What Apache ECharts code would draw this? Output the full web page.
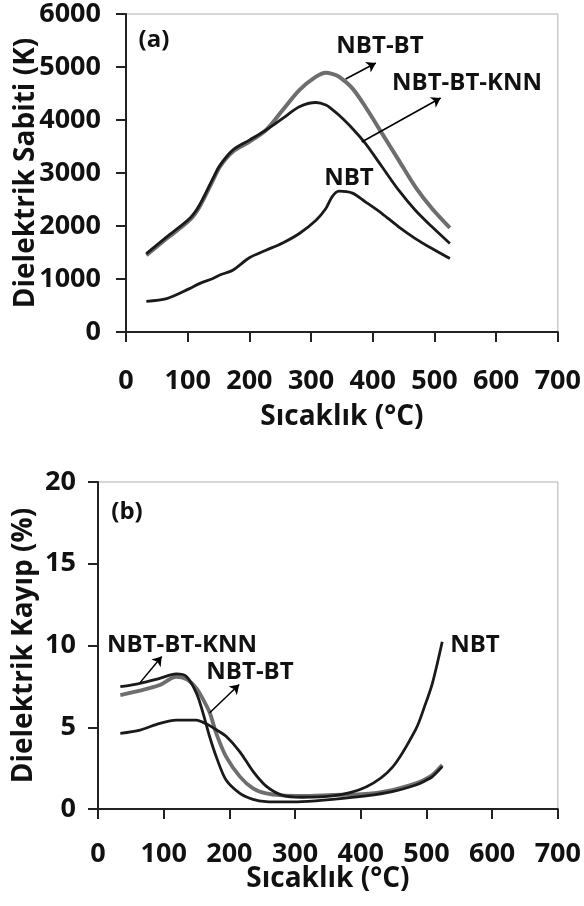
<!DOCTYPE html>
<html>
<head>
<meta charset="utf-8">
<script src="https://cdn.jsdelivr.net/npm/echarts@6/dist/echarts.min.js"></script>
<style>
  html, body { margin: 0; padding: 0; background: #fff; }
  #chart { width: 584px; height: 906px; }
</style>
</head>
<body>
<div id="chart"></div>
<script>
  // panel (a): dielectric constant vs temperature
  const tempA = [33, 66, 103, 119, 141, 152, 173, 200, 227, 254, 281, 308, 324, 334, 345, 367, 388, 415, 442, 469, 496, 525];
  const kNbtBt = [1448, 1763, 2110, 2361, 2865, 3117, 3400, 3589, 3810, 4188, 4565, 4817, 4893, 4870, 4817, 4597, 4250, 3747, 3243, 2739, 2330, 1965];
  const kKnn = [1480, 1795, 2141, 2393, 2897, 3140, 3432, 3621, 3810, 4030, 4250, 4330, 4282, 4200, 4093, 3841, 3558, 3117, 2676, 2298, 1984, 1669];
  const kNbt = [579, 630, 818, 913, 1010, 1075, 1165, 1400, 1543, 1680, 1858, 2110, 2330, 2550, 2657, 2620, 2456, 2235, 1984, 1763, 1574, 1385];

  // panel (b): dielectric loss vs temperature
  const tempB = [34, 64, 94, 119, 135, 150, 160, 170, 180, 195, 216, 236, 256, 280, 310, 357, 408, 448, 484, 497, 509, 524];
  const lossKnn = [7.48, 7.69, 7.99, 8.26, 8.09, 7.07, 5.85, 4.42, 3.2, 1.77, 0.96, 0.59, 0.45, 0.43, 0.45, 0.59, 0.8, 1.06, 1.47, 1.7, 1.98, 2.59];
  const lossNbtBt = [6.97, 7.24, 7.58, 8.09, 7.93, 7.38, 6.7, 5.9, 4.63, 3.2, 1.98, 1.26, 0.95, 0.83, 0.8, 0.86, 0.92, 1.16, 1.57, 1.8, 2.08, 2.69];
  const lossNbt = [4.63, 4.83, 5.24, 5.44, 5.44, 5.44, 5.3, 5.1, 4.85, 4.45, 3.5, 2.3, 1.4, 0.85, 0.72, 0.8, 1.35, 2.55, 4.9, 6.26, 7.69, 10.23];

  // arrows (data coordinates)
  const arrowA1 = [[356, 4774], [405, 5075]];
  const arrowA2 = [[382, 3585], [510, 4415]];
  const arrowB1 = [[64, 7.73], [97, 9.33]];
  const arrowB2 = [[170, 5.89], [215, 7.61]];

  const FONT = 'Open Sans';
  const BLACK = '#1a1a1a';
  const GRAY = '#6e6e6e';

  function pairs(xs, ys) {
    return xs.map((x, i) => [x, ys[i]]);
  }

  function arrow(a) {
    return {
      silent: true,
      symbol: ['none', 'arrow'],
      symbolSize: 9,
      label: { show: false },
      lineStyle: { color: '#000', width: 1.5, type: 'solid' },
      data: [[{ coord: a[0] }, { coord: a[1] }]]
    };
  }

  function line(name, xi, data, color, width, mark) {
    let s = {
      name: name,
      type: 'line',
      xAxisIndex: xi,
      yAxisIndex: xi,
      data: data,
      showSymbol: false,
      smooth: 0.3,
      lineStyle: { color: color, width: width },
      itemStyle: { color: color }
    };
    if (mark) s.markLine = mark;
    return s;
  }

  const axisCommon = {
    axisLine: { onZero: false, lineStyle: { color: '#222', width: 2 } },
    axisTick: { inside: false, length: 10, lineStyle: { color: '#222', width: 2 } },
    splitLine: { show: false },
    nameMoveOverlap: false,
    nameTextStyle: { fontFamily: FONT, fontWeight: 'bold', fontSize: 28, color: '#111' }
  };

  const labelStyle = { fontFamily: FONT, fontWeight: 'bold', fontSize: 27, color: '#111', formatter: v => String(v) };

  function xAxis(gi, margin, gap) {
    return Object.assign({}, axisCommon, {
      type: 'value', gridIndex: gi, min: 0, max: 700, interval: 100,
      name: 'Sıcaklık (°C)', nameLocation: 'middle', nameGap: gap,
      axisLabel: Object.assign({ margin: margin }, labelStyle)
    });
  }

  function yAxis(gi, max, interval, name, margin, gap) {
    return Object.assign({}, axisCommon, {
      type: 'value', gridIndex: gi, min: 0, max: max, interval: interval,
      name: name, nameLocation: 'middle', nameGap: gap, nameRotate: 90,
      axisLabel: Object.assign({ margin: margin }, labelStyle)
    });
  }

  function txt(x, y, s) {
    return {
      type: 'text', x: x, y: y, z: 100,
      style: { text: s, fill: '#111', font: 'bold 24px "' + FONT + '"', textAlign: 'center', textVerticalAlign: 'middle' }
    };
  }

  let chart = echarts.init(document.getElementById('chart'));
  let option = {
    animation: false,
    backgroundColor: '#fff',
    textStyle: { fontFamily: FONT },
    grid: [
      { left: 126, top: 14, width: 434, height: 318, show: true, borderColor: '#b0b0b0', borderWidth: 1 },
      { left: 98, top: 482, width: 461, height: 327, show: true, borderColor: '#b0b0b0', borderWidth: 1 }
    ],
    xAxis: [xAxis(0, 36, 71), xAxis(1, 32, 56)],
    yAxis: [
      yAxis(0, 6000, 1000, 'Dielektrik Sabiti (K)', 25, 86),
      yAxis(1, 20, 5, 'Dielektrik Kayıp (%)', 22, 60)
    ],
    series: [
      line('NBT-BT', 0, pairs(tempA, kNbtBt), GRAY, 4, arrow(arrowA1)),
      line('NBT-BT-KNN', 0, pairs(tempA, kKnn), BLACK, 2.8, arrow(arrowA2)),
      line('NBT', 0, pairs(tempA, kNbt), BLACK, 2.8),
      line('NBT-BT', 1, pairs(tempB, lossNbtBt), GRAY, 3.8, arrow(arrowB2)),
      line('NBT-BT-KNN', 1, pairs(tempB, lossKnn), BLACK, 2.8, arrow(arrowB1)),
      line('NBT', 1, pairs(tempB, lossNbt), BLACK, 2.8)
    ],
    graphic: [
      txt(154, 40, '(a)'),
      txt(380, 46, 'NBT-BT'),
      txt(467, 83, 'NBT-BT-KNN'),
      txt(349, 178, 'NBT'),
      txt(127, 512, '(b)'),
      txt(182, 645, 'NBT-BT-KNN'),
      txt(250, 672, 'NBT-BT'),
      txt(475, 645, 'NBT')
    ]
  };
  chart.setOption(option);
</script>
</body>
</html>
